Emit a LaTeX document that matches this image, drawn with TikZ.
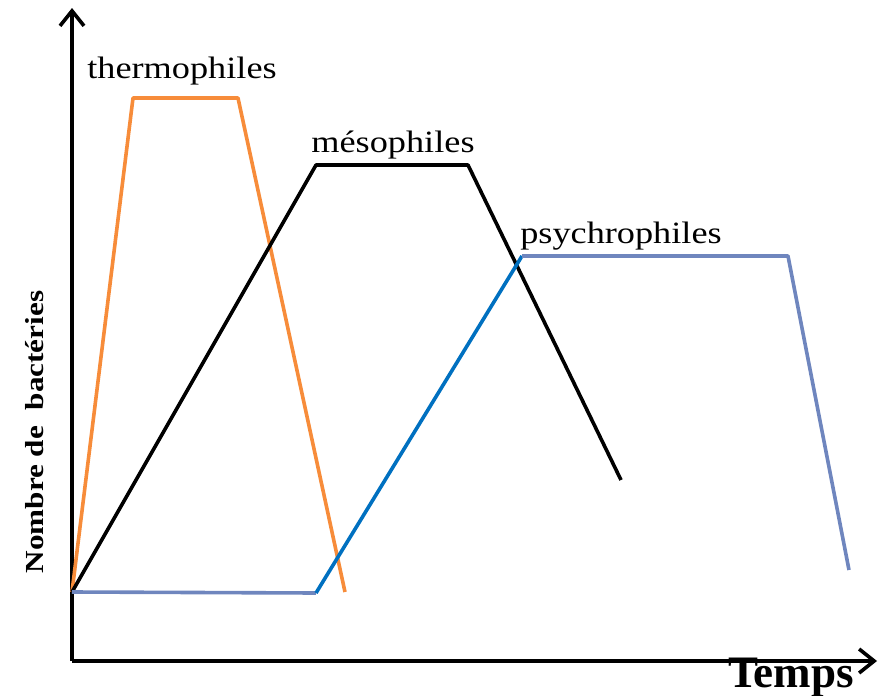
\documentclass[tikz,border=0pt]{standalone}
\usepackage{fontspec}
\setmainfont{Liberation Serif}
\usetikzlibrary{arrows.meta}
\definecolor{orng}{RGB}{247,140,58}
\definecolor{gblue}{RGB}{111,134,190}
\definecolor{mblue}{RGB}{0,112,192}
\begin{document}
\begin{tikzpicture}[x=1pt,y=-1pt,
  axis/.style={line width=3.6pt,-{Straight Barb[length=15pt,width=24pt,line width=3.6pt]}},
  curve/.style={line width=3.6pt,line join=round},
  lbl/.style={font=\fontsize{31}{34}\selectfont,inner sep=0pt}]
\useasboundingbox (0,0) rectangle (879,696);
\coordinate (O) at (72,661);
\coordinate (Ytop) at (72,8);
\coordinate (Xend) at (877,661);
\draw[axis] (O) -- (Ytop);
\draw[axis] (O) -- (Xend);
% thermophiles
\coordinate (t0) at (72,592);
\coordinate (t1) at (133,98);
\coordinate (t2) at (238,98);
\coordinate (t3) at (345,592);
\draw[curve,orng] (t0) -- (t1) -- (t2) -- (t3);
% mesophiles
\coordinate (m1) at (316,165);
\coordinate (m2) at (468,165);
\coordinate (m3) at (621,480);
\draw[curve,black] (t0) -- (m1) -- (m2) -- (m3);
% psychrophiles
\coordinate (p0) at (72,592);
\coordinate (p1) at (316,593);
\coordinate (p2) at (522,256);
\coordinate (p3) at (788,256);
\coordinate (p4) at (849,570);
\draw[curve,gblue] (p0) -- (p1);
\draw[curve,mblue] (p1) -- (p2);
\draw[curve,gblue] (p2) -- (p3) -- (p4);
% labels
\node[lbl,anchor=base] (lt) at (182,78) {\scalebox{1.17}[1]{thermophiles}};
\node[lbl,anchor=base] (lm) at (393,152) {\scalebox{1.17}[1]{mésophiles}};
\node[lbl,anchor=base] (lp) at (621,243) {\scalebox{1.17}[1]{psychrophiles}};
\node[font=\bfseries\fontsize{45}{48}\selectfont,inner sep=0pt,anchor=base] (lx) at (791,687) {Temps};
\node[font=\bfseries\fontsize{26}{28}\selectfont,inner sep=0pt,rotate=90,anchor=base] (ly) at (43,432) {\scalebox{1.2}[1]{Nombre de\ \ bactéries}};
\end{tikzpicture}
\end{document}
